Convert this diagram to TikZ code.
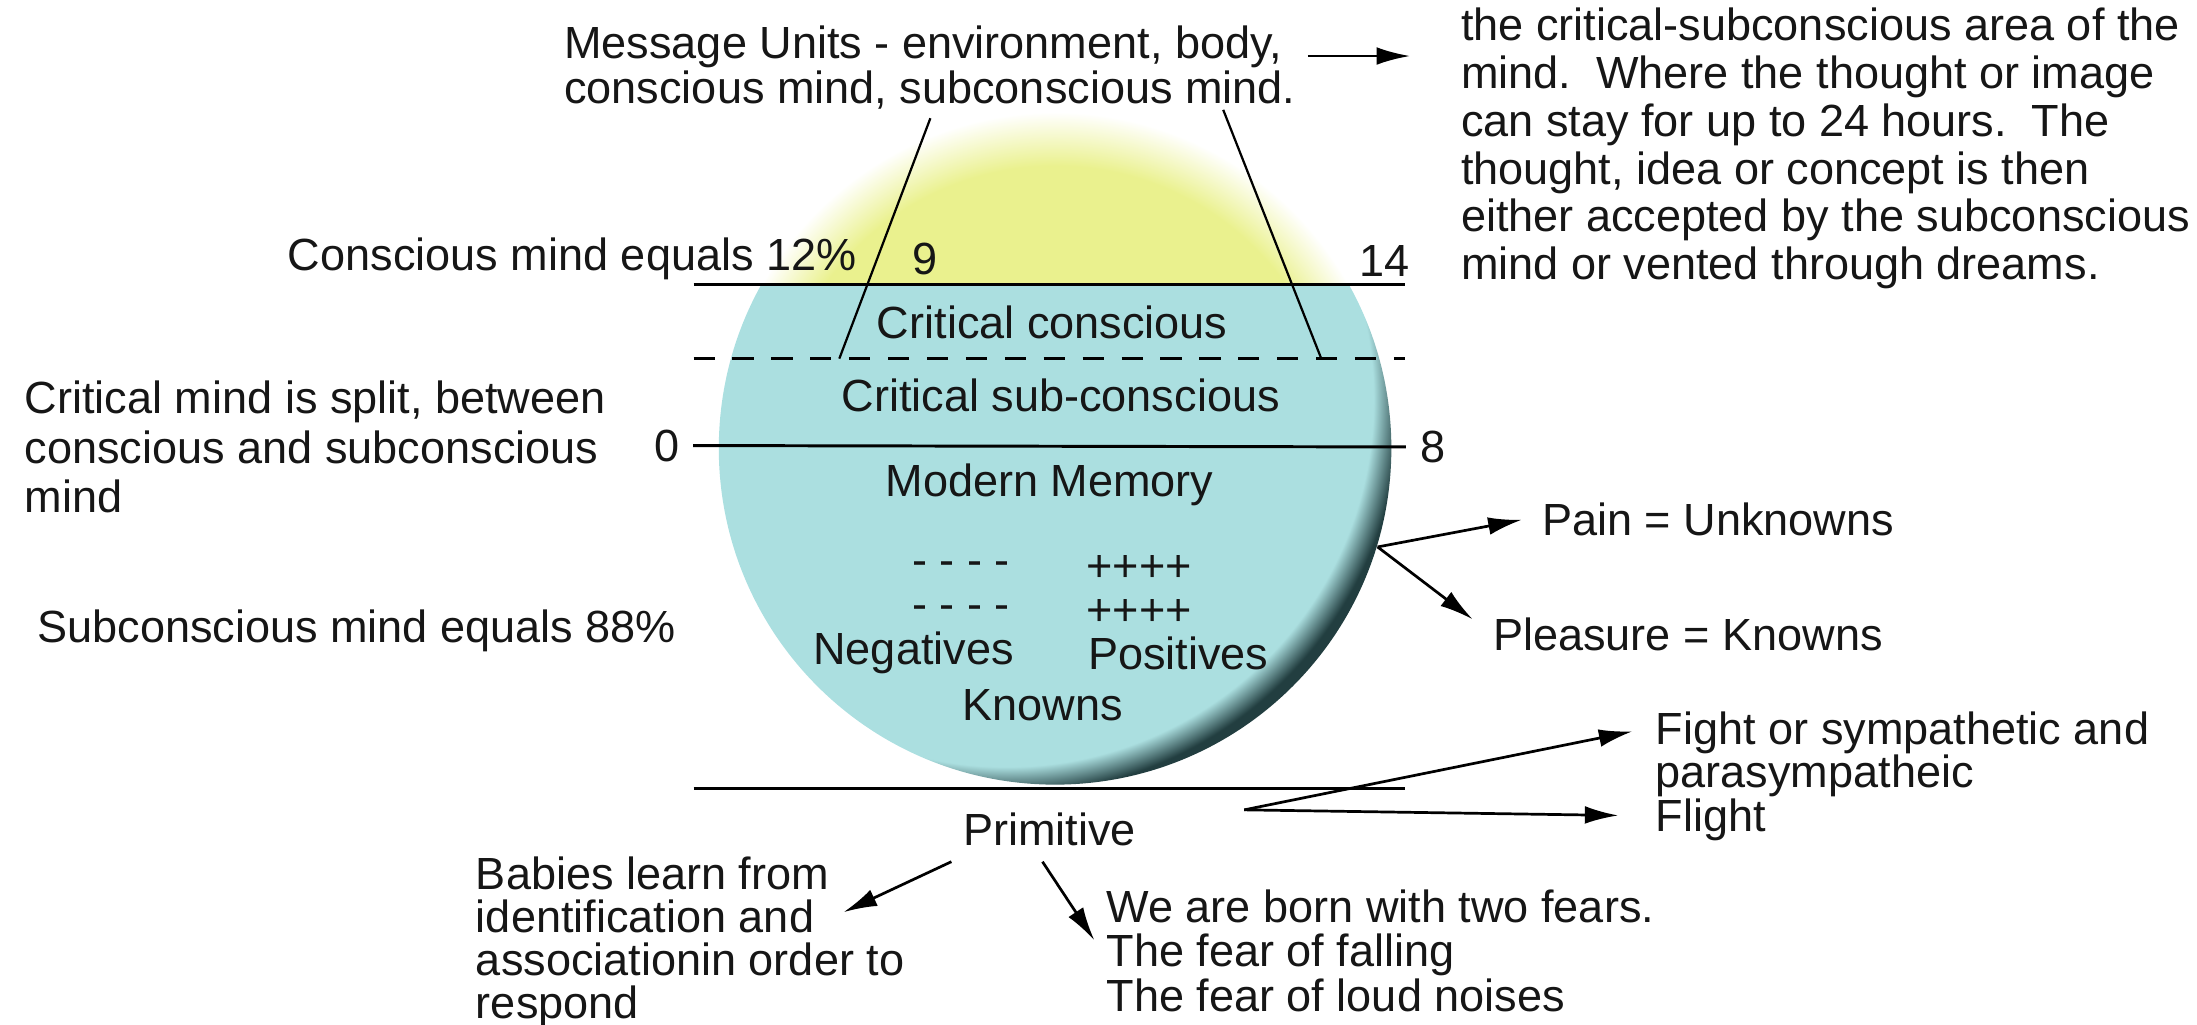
\documentclass[tikz,border=0pt]{standalone}
\usepackage{fontspec}
\setsansfont{Liberation Sans}
\usepackage{xcolor}
\usepackage{tikz}
\usetikzlibrary{arrows.meta}

\definecolor{capyellow}{RGB}{234,241,142}
\definecolor{mindcyan}{RGB}{171,223,224}
\definecolor{mindrim}{RGB}{34,62,64}
\definecolor{inktext}{RGB}{22,22,22}

\pgfdeclareradialshading{capglow}{\pgfpoint{0bp}{0bp}}{%
  color(0bp)=(capyellow); color(21bp)=(capyellow); color(25bp)=(white); color(50bp)=(white)}
\pgfdeclareradialshading{rimglow}{\pgfpoint{0bp}{0bp}}{%
  color(0bp)=(mindcyan); color(22.6bp)=(mindcyan); color(23.45bp)=(mindcyan!50!mindrim); color(24.3bp)=(mindrim); color(50bp)=(mindrim)}

\begin{document}
\begin{tikzpicture}[
                >={Latex[length=6.8pt,width=3.6pt]},
                font=\sffamily\fontsize{9.15}{9.4}\selectfont,
                every node/.style={text=inktext, inner sep=0pt},
                bskip/.style={font=\sffamily\fontsize{9.15}{#1}\selectfont},
                txt/.style={align=left, anchor=west},
                divider/.style={draw=black, line width=0.6pt},
                splitline/.style={draw=black, line width=0.6pt, dash pattern=on 4.3pt off 3.6pt},
                pointer/.style={draw=black, line width=0.45pt},
                arrowline/.style={draw=black, ->, line width=0.55pt}
            ]
                \useasboundingbox (0,0) rectangle (15.68,7.31);

                % --- MIND CIRCLE ---
                \node[circle, minimum size=4.8cm] (mind) at (7.53,4.11) {};
                \begin{scope}
                    \clip (4.9,5.28) rectangle (10.2,6.7);
                    \shade[shading=capglow] (mind.center) circle (2.4cm);
                \end{scope}
                \begin{scope}
                    \clip (4.9,1.5) rectangle (10.2,5.28);
                    \clip (mind.center) circle (2.4cm);
                    \shade[shading=rimglow] ([shift={(-0.35,0.35)}]mind.center) circle (2.9cm);
                \end{scope}

                % --- LEVELS ---
                \node (num0) at (4.76,4.13) {0};
                \node (num8) at (10.23,4.12) {8};
                \draw[divider] (4.95,5.28) -- (10.03,5.28);
                \draw[splitline] (4.95,4.75) -- (10.03,4.75);
                \draw[divider] ([xshift=0.09cm]num0.east) -- ([xshift=-0.1cm]num8.west);
                \draw[divider] (4.95,1.68) -- (10.03,1.68);

                \node[anchor=east] (cons12) at (6.12,5.46) {Conscious mind equals 12\%};
                \node (num9) at (6.60,5.46) {9};
                \node (num14) at (9.88,5.45) {14};
                \node (critcons) at (7.51,5.01) {Critical conscious};
                \node (critsub) at (7.57,4.49) {Critical sub-conscious};
                \node (modern) at (7.49,3.85) {Modern Memory};
                \node (negdash1) at (6.86,3.25) {- - - -};
                \node (negdash2) at (6.86,2.94) {- - - -};
                \node (posplus1) at (8.13,3.25) {++++};
                \node (posplus2) at (8.13,2.94) {++++};
                \node (negatives) at (6.52,2.65) {Negatives};
                \node (positives) at (8.41,2.65) {Positives};
                \node (knowns) at (7.44,2.28) {Knowns};
                \node (primitive) at (7.49,1.39) {Primitive};

                % --- TEXT AROUND ---
                \node[txt, bskip=9.1] (msg) at (4.02,6.83) {Message Units - environment, body,\\conscious mind, subconscious mind.};
                \node[txt, bskip=9.7] (info) at (10.42,6.25) {the critical-subconscious area of the\\mind.\ \ Where the thought or image\\can stay for up to 24 hours.\ \ The\\thought, idea or concept is then\\either accepted by the subconscious\\mind or vented through dreams.};
                \node[txt, bskip=10] (split) at (0.17,4.12) {Critical mind is split, between\\conscious and subconscious\\mind};
                \node[txt] (sub88) at (0.26,2.81) {Subconscious mind equals 88\%};
                \node[txt] (pain) at (11.00,3.60) {Pain = Unknowns};
                \node[txt] (pleasure) at (10.65,2.78) {Pleasure = Knowns};
                \node[txt, bskip=8.8] (fight) at (11.81,1.77) {Fight or sympathetic and\\parasympatheic\\Flight};
                \node[txt, bskip=8.7] (babies) at (3.39,0.585) {Babies learn from\\identification and\\associationin order to\\respond};
                \node[txt, bskip=9] (fears) at (7.89,0.525) {We are born with two fears.\\The fear of falling\\The fear of loud noises};

                % --- CONNECTIONS ---
                \coordinate (mleft) at (5.99,4.75);
                \coordinate (mright) at (9.43,4.75);
                \coordinate (fork) at (8.88,1.53);
                \draw[pointer] ([xshift=2.62cm,yshift=-0.06cm]msg.south west) -- (mleft);
                \draw[pointer] ([xshift=4.71cm]msg.south west) -- (mright);
                \draw[arrowline] ([shift={(0.08cm,0.08cm)}]msg.east) -- ++(0.73,0);
                \draw[arrowline] (mind.-17) -- ([xshift=-0.14cm]pain.west);
                \draw[arrowline] (mind.-17) -- ([shift={(-0.14cm,0.11cm)}]pleasure.west);
                \draw[arrowline] (fork) -- ([shift={(-0.16cm,0.32cm)}]fight.west);
                \draw[arrowline] (fork) -- ([shift={(-0.26cm,-0.28cm)}]fight.west);
                \draw[arrowline] ([shift={(-0.70cm,-0.23cm)}]primitive.center) -- ([shift={(-0.44cm,0.215cm)}]babies.east);
                \draw[arrowline] ([shift={(-0.05cm,-0.23cm)}]primitive.center) -- ([shift={(-0.08cm,0.075cm)}]fears.west);

            \end{tikzpicture}
\end{document}
